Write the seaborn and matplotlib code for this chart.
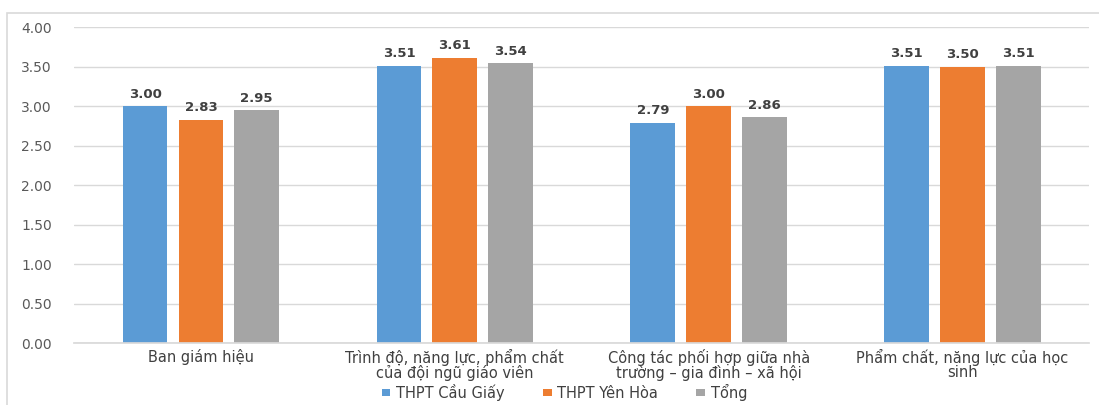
import matplotlib
matplotlib.use("Agg")
import matplotlib.pyplot as plt
import seaborn as sns
import pandas as pd
from matplotlib.patches import Rectangle

categories = [
    "Ban giám hiệu",
    "Trình độ, năng lực, phẩm chất\ncủa đội ngũ giáo viên",
    "Công tác phối hợp giữa nhà\ntrường – gia đình – xã hội",
    "Phẩm chất, năng lực của học\nsinh",
]
series = ["THPT Cầu Giấy", "THPT Yên Hòa", "Tổng"]
cau_giay = [3.00, 3.51, 2.79, 3.51]
yen_hoa = [2.83, 3.61, 3.00, 3.50]
tong = [2.95, 3.54, 2.86, 3.51]
colors = ["#5B9BD5", "#ED7D31", "#A5A5A5"]
yticks = [0.0, 0.5, 1.0, 1.5, 2.0, 2.5, 3.0, 3.5, 4.0]

rows = []
for name, vals in zip(series, [cau_giay, yen_hoa, tong]):
    for cat, v in zip(categories, vals):
        rows.append({"cat": cat, "series": name, "value": v})
df = pd.DataFrame(rows)

sns.set_theme(style="white")
plt.rcParams["font.family"] = ["DejaVu Sans"]

fig = plt.figure(figsize=(10.99, 4.05), dpi=100)
ax = fig.add_axes([0.0673, 0.153, 0.924, 0.78])

sns.barplot(data=df, x="cat", y="value", hue="series", order=categories,
            hue_order=series, palette=colors, width=0.66, gap=0.2,
            saturation=1, ax=ax, errorbar=None, linewidth=0)

for cont in ax.containers:
    ax.bar_label(cont, fmt="%.2f", padding=4, fontsize=9.5,
                 fontweight="bold", color="#404040")

ax.set_ylim(0, 4.0)
ax.set_yticks(yticks)
ax.set_yticklabels([f"{t:.2f}" for t in yticks])
ax.set_xlim(-0.5, 3.5)
ax.set_xlabel("")
ax.set_ylabel("")
ax.yaxis.grid(True, color="#D9D9D9", linewidth=1)
ax.set_axisbelow(True)
for s in ["left", "right", "top"]:
    ax.spines[s].set_visible(False)
ax.spines["bottom"].set_color("#D9D9D9")
ax.tick_params(axis="y", length=0, labelsize=10, colors="#595959", pad=16)
ax.tick_params(axis="x", length=0, labelsize=10.5, colors="#404040", pad=4)
for lbl in ax.get_xticklabels():
    lbl.set_linespacing(0.92)

leg = ax.legend(loc="center", bbox_to_anchor=(0.483, -0.155), ncol=3,
                frameon=False, fontsize=10.5, handlelength=0.6,
                handleheight=0.4, handletextpad=0.4, columnspacing=2.6,
                labelcolor="#404040", borderaxespad=0)

fig.add_artist(Rectangle((7 / 1099, -0.05), 1.2, 1 - 13 / 405 + 0.05,
                         transform=fig.transFigure, fill=False,
                         edgecolor="#D9D9D9", linewidth=1.2))

fig.savefig("out.png", dpi=100, facecolor="white")
